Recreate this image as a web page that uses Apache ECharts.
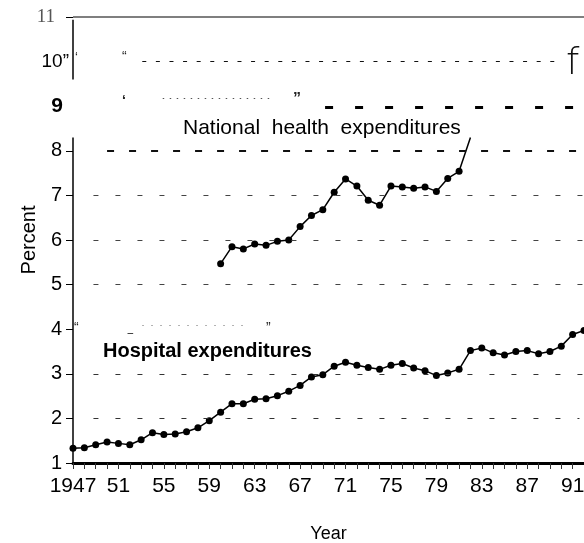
<!DOCTYPE html>
<html>
<head>
<meta charset="utf-8">
<title>Hospital and national health expenditures</title>
<script src="https://cdn.jsdelivr.net/npm/echarts@6/dist/echarts.min.js"></script>
<style>
  html, body { margin: 0; padding: 0; background: #fff; }
  #chart { width: 584px; height: 543px; }
</style>
</head>
<body>
<div id="chart"></div>
<script>
// percent values
var hospYears = [1947,1948,1949,1950,1951,1952,1953,1954,1955,1956,1957,1958,1959,1960,1961,1962,1963,1964,1965,1966,1967,1968,1969,1970,1971,1972,1973,1974,1975,1976,1977,1978,1979,1980,1981,1982,1983,1984,1985,1986,1987,1988,1989,1990,1991,1992];
var hospital = [1.33,1.34,1.41,1.47,1.44,1.41,1.52,1.68,1.64,1.65,1.70,1.79,1.95,2.14,2.33,2.33,2.43,2.44,2.51,2.61,2.74,2.93,2.98,3.17,3.26,3.19,3.14,3.10,3.19,3.23,3.13,3.07,2.96,3.02,3.10,3.52,3.58,3.47,3.42,3.50,3.52,3.45,3.50,3.62,3.88,3.97];

var natYears = [1960,1961,1962,1963,1964,1965,1966,1967,1968,1969,1970,1971,1972,1973,1974,1975,1976,1977,1978,1979,1980,1981,1982];
var national = [5.47,5.85,5.80,5.91,5.88,5.97,6.00,6.30,6.55,6.68,7.07,7.37,7.21,6.89,6.78,7.21,7.19,7.16,7.19,7.09,7.38,7.54,8.3];

var yTicks = [1,2,3,4,5,6,7,8,9,10,11];
var xLabelYears = [1947,1951,1955,1959,1963,1967,1971,1975,1979,1983,1987,1991];

var FONT = '"Liberation Sans", Arial, Helvetica, sans-serif';
var chart = echarts.init(document.getElementById('chart'));

function pairs(xs, ys) {
  var out = [];
  for (var i = 0; i < xs.length; i++) out.push([xs[i], ys[i]]);
  return out;
}

var natData = pairs(natYears, national);
// the last segment of the scan runs off into the label, no dot there
natData[natData.length - 1] = { value: natData[natData.length - 1], symbol: 'none' };

function row(y, x1, x2, style) {
  return [{ coord: [x1, y], lineStyle: style }, { coord: [x2, y] }];
}
var dash = { type: [5, 17], width: 1, color: '#333' };

var option = {
  animation: false,
  backgroundColor: '#fff',
  grid: { left: 73, right: 0, top: 17, bottom: 80, outerBoundsMode: 'none' },
  xAxis: {
    type: 'value',
    min: 1947,
    max: 1992,
    interval: 1,
    name: 'Year',
    nameLocation: 'middle',
    nameGap: 62,
    nameTextStyle: { fontFamily: FONT, fontSize: 18, color: '#000' },
    axisLine: { show: true, lineStyle: { color: '#000', width: 3 } },
    axisTick: { show: true, length: 6, lineStyle: { color: '#333', width: 1 } },
    axisLabel: {
      fontFamily: FONT, fontSize: 21, color: '#000', margin: 13,
      showMaxLabel: false,
      formatter: function (v) {
        if (xLabelYears.indexOf(v) < 0) return '';
        return v === 1947 ? '1947' : String(v).slice(2);
      }
    },
    splitLine: { show: false }
  },
  yAxis: {
    type: 'value',
    min: 1,
    max: 11,
    interval: 1,
    name: 'Percent',
    nameLocation: 'middle',
    nameGap: 34,
    nameMoveOverlap: false,
    nameRotate: 90,
    nameTextStyle: { fontFamily: FONT, fontSize: 20, color: '#000' },
    axisLine: { show: false },
    axisTick: { show: true, length: 7, customValues: [1,2,3,4,5,6,7,8,11], lineStyle: { color: '#000', width: 1 } },
    axisLabel: {
      margin: 3,
      customValues: yTicks,
      formatter: function (v) {
        if (v === 11) return '{s|11}';
        if (v === 10) return '{t|10\u201d}';
        if (v === 9) return '{b|9}';
        return '{n|' + v + '}';
      },
      rich: {
        n: { fontFamily: FONT, fontSize: 20, color: '#000', padding: [0, 8, 0, 0] },
        b: { fontFamily: FONT, fontSize: 21, fontWeight: 'bold', color: '#000', padding: [0, 7, 0, 0] },
        t: { fontFamily: FONT, fontSize: 19, color: '#000', padding: [0, 1, 0, 0] },
        s: { fontFamily: '"Liberation Serif", "DejaVu Serif", serif', fontSize: 19, color: '#555', padding: [0, 15, 0, 0] }
      }
    },
    splitLine: { show: false }
  },
  graphic: [
    { type: 'text', left: 183, top: 118, style: { text: 'National  health  expenditures', font: '21px ' + FONT, fill: '#000' } },
    { type: 'text', left: 103, top: 341, style: { text: 'Hospital expenditures', font: 'bold 20px ' + FONT, fill: '#000' } },
    { type: 'text', left: 75, top: 51, style: { text: '\u2018', font: '13px ' + FONT, fill: '#222' } },
    { type: 'text', left: 122, top: 50, style: { text: '\u201c', font: '14px ' + FONT, fill: '#222' } },
    { type: 'text', left: 122, top: 94, style: { text: '\u2018', font: 'bold 14px ' + FONT, fill: '#222' } },
    { type: 'text', left: 293, top: 92, style: { text: '\u201d', font: 'bold 16px ' + FONT, fill: '#222' } },
    { type: 'text', left: 74, top: 321, style: { text: '\u201c', font: '14px ' + FONT, fill: '#222' } },
    { type: 'text', left: 266, top: 321, style: { text: '\u201d', font: '14px ' + FONT, fill: '#222' } },
    { type: 'text', left: 566, top: 45, style: { text: 'f', font: '200 38px "DejaVu Sans", sans-serif', fill: '#111' } }
  ],
  series: [
    {
      name: 'guides',
      type: 'line',
      data: [],
      silent: true,
      markLine: {
        silent: true,
        symbol: 'none',
        label: { show: false },
        data: [
          // y axis, broken in the scan
          [{ coord: [1947, 1], lineStyle: { type: 'solid', width: 1.5, color: '#000' } }, { coord: [1947, 8.3] }],
          [{ coord: [1947, 9.6], lineStyle: { type: 'solid', width: 1.5, color: '#000' } }, { coord: [1947, 10.94] }],
          // top rule
          row(11, 1947, 1992, { type: 'solid', width: 1.5, color: '#555' }),
          row(2, 1948.8, 1991.6, dash),
          row(3, 1948.8, 1992, dash),
          row(5, 1948.8, 1992, { type: [5, 17], width: 1, color: '#444' }),
          row(6, 1948.8, 1992, { type: [5, 17], width: 1, color: '#444' }),
          row(7, 1948.8, 1992, { type: [5, 17], width: 1, color: '#444' }),
          row(8, 1950, 1992, { type: [7, 15], width: 2, color: '#111' }),
          row(4.09, 1953.1, 1962.5, { type: [1.5, 7.5], width: 1, color: '#999' }),
          row(3.9, 1951.8, 1952.3, { type: 'solid', width: 1, color: '#444' }),
          row(9.18, 1954.9, 1964.7, { type: [1.5, 5.5], width: 1, color: '#555' }),
          row(8.98, 1969.2, 1992, { type: [8, 22], width: 3, color: '#000' }),
          row(10.0, 1953.1, 1990.2, { type: [4, 9.6], width: 1.2, color: '#111' })
        ]
      }
    },
    {
      name: 'National health expenditures',
      type: 'line',
      data: natData,
      symbol: 'circle',
      symbolSize: 7,
      itemStyle: { color: '#000' },
      lineStyle: { color: '#000', width: 1.5 },
      clip: false
    },
    {
      name: 'Hospital expenditures',
      type: 'line',
      data: pairs(hospYears, hospital),
      symbol: 'circle',
      symbolSize: 7,
      itemStyle: { color: '#000' },
      lineStyle: { color: '#000', width: 1.5 },
      clip: false
    }
  ]
};
chart.setOption(option);
</script>
</body>
</html>
